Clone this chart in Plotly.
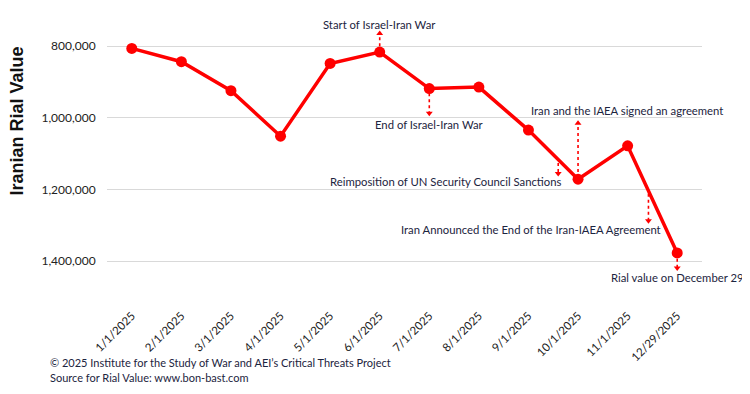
import plotly.graph_objects as go

dates = ["1/1/2025", "2/1/2025", "3/1/2025", "4/1/2025", "5/1/2025", "6/1/2025",
         "7/1/2025", "8/1/2025", "9/1/2025", "10/1/2025", "11/1/2025", "12/29/2025"]
rial = [806000, 843000, 924000, 1051000, 848000, 816000,
        918000, 914000, 1034000, 1171000, 1078000, 1377000]
y_ticks = [800000, 1000000, 1200000, 1400000]

events = ["Start of Israel-Iran War", "End of Israel-Iran War",
          "Iran and the IAEA signed an agreement",
          "Reimposition of UN Security Council Sanctions",
          "Iran Announced the End of the Iran-IAEA Agreement",
          "Rial value on December 29"]

RED = "#ff0000"
TXT = "#1c2440"
FONT = "Lato"

fig = go.Figure()
fig.add_trace(go.Scatter(
    x=list(range(len(dates))), y=rial, mode="lines+markers",
    line=dict(color=RED, width=3.5),
    marker=dict(color=RED, size=11),
    hoverinfo="skip", showlegend=False, cliponaxis=False))

# event label placements: (x index, y value) for text, and arrow (x, y_from, y_to)
labels = [(5, 739000), (6, 1017000), (9.98, 978000), (6.33, 1177000), (8.06, 1311000), (11, 1445000)]
arrows = [(5, 800000, 764000), (6, 931000, 987000), (9, 1151000, 1015000),
          (8.6, 1126000, 1155000), (10.42, 1212000, 1287000), (11, 1393000, 1419000)]

for (tx, ty), txt in zip(labels, events):
    fig.add_annotation(x=tx, y=ty, xref="x", yref="y", text=txt, showarrow=False,
                       font=dict(family=FONT, size=11.3, color=TXT), xanchor="center", yanchor="middle")

hx, hy, hs = [], [], []
for ax_, y0, y1 in arrows:
    fig.add_shape(type="line", xref="x", yref="y", x0=ax_, x1=ax_, y0=y0, y1=y1,
                  line=dict(color=RED, width=1.6, dash="dot"))
    hx.append(ax_)
    hy.append(y1)
    hs.append("triangle-down" if y1 > y0 else "triangle-up")
fig.add_trace(go.Scatter(x=hx, y=hy, mode="markers",
                         marker=dict(symbol=hs, color=RED, size=6),
                         hoverinfo="skip", showlegend=False, cliponaxis=False))

fig.add_annotation(x=-0.152, y=0.654, xref="paper", yref="paper", text="<b>Iranian Rial Value</b>",
                   textangle=-90, showarrow=False, xanchor="center", yanchor="middle",
                   font=dict(family="Liberation Sans", size=18, color="#111111"))
fig.add_annotation(x=-0.100, y=-0.198, xref="paper", yref="paper", xanchor="left", yanchor="middle",
                   text="© 2025 Institute for the Study of War and AEI’s Critical Threats Project",
                   showarrow=False, font=dict(family=FONT, size=11, color=TXT))
fig.add_annotation(x=-0.100, y=-0.254, xref="paper", yref="paper", xanchor="left", yanchor="middle",
                   text="Source for Rial Value: www.bon-bast.com",
                   showarrow=False, font=dict(family=FONT, size=11, color=TXT))

fig.update_layout(
    width=742, height=386,
    margin=dict(l=99, r=48, t=15, b=88),
    paper_bgcolor="white", plot_bgcolor="white",
    xaxis=dict(tickmode="array", tickvals=list(range(len(dates))), ticktext=dates,
               range=[-0.5, len(dates) - 0.5], tickangle=-45, showgrid=False, zeroline=False,
               showline=False, ticks="", tickfont=dict(family=FONT, size=11.5, color="#222222")),
    yaxis=dict(range=[1525000, 735000], tickvals=y_ticks, tickformat=",d",
               showgrid=True, gridcolor="#d9d9d9", gridwidth=1, zeroline=False, showline=False,
               ticks="outside", ticklen=8, tickcolor="rgba(0,0,0,0)",
               tickfont=dict(family=FONT, size=12, color="#222222")),
    font=dict(family=FONT),
)
fig.write_html("out.html")
